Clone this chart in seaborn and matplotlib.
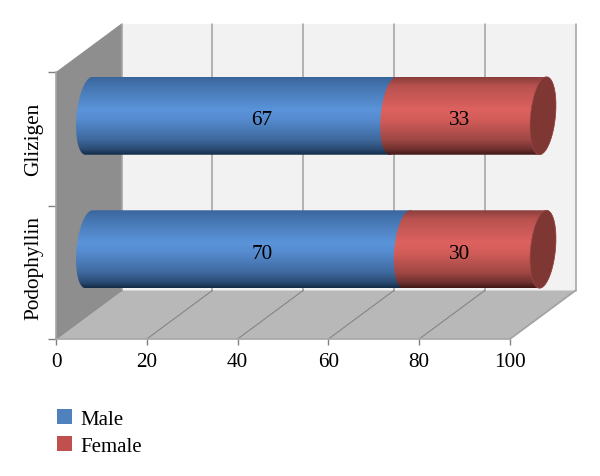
import numpy as np
import pandas as pd
import matplotlib
matplotlib.use('Agg')
import matplotlib.pyplot as plt
import seaborn as sns
from matplotlib.colors import LinearSegmentedColormap
from matplotlib.patches import Patch, Polygon

# Data
categories = ['Glizigen', 'Podophyllin']
male = [67, 70]
female = [33, 30]
x_ticks = [0, 20, 40, 60, 80, 100]

sns.set_theme(style='white')
plt.rcParams['font.family'] = ['Liberation Serif', 'DejaVu Serif']

W, H = 600, 477
fig = plt.figure(figsize=(W / 100, H / 100), dpi=100)


def px_rect(left, right, top, bottom):
    return [left / W, 1 - bottom / H, (right - left) / W, (bottom - top) / H]


# front plane of the fake 3d box
ax = fig.add_axes(px_rect(56, 510, 73, 340), zorder=1)
ax.set_xlim(0, 100)
ax.set_ylim(1.5, -0.5)
ax.patch.set_alpha(0)

depth_x = 65.5 / 4.54
depth_y = 48.5 / 133.5
top, bottom = -0.5, 1.5

back_wall = [(depth_x, top - depth_y), (100 + depth_x, top - depth_y),
             (100 + depth_x, bottom - depth_y), (depth_x, bottom - depth_y)]
left_wall = [(0, bottom), (0, top), (depth_x, top - depth_y), (depth_x, bottom - depth_y)]
floor = [(0, bottom), (100, bottom), (100 + depth_x, bottom - depth_y), (depth_x, bottom - depth_y)]

ax.add_patch(Polygon(back_wall, fc='#f2f2f2', ec='none', clip_on=False, zorder=1))
ax.add_patch(Polygon(floor, fc='#b8b8b8', ec='none', clip_on=False, zorder=2))
ax.add_patch(Polygon(left_wall, fc='#8e8e8e', ec='none', clip_on=False, zorder=3))

for t in x_ticks:
    # back wall and floor grid
    ax.plot([t + depth_x, t + depth_x], [top - depth_y, bottom - depth_y], color='#a0a0a0', lw=1.1,
            clip_on=False, zorder=2.5)
    ax.plot([t, t + depth_x], [bottom, bottom - depth_y], color='#858585', lw=0.8,
            clip_on=False, zorder=2.5)
ax.plot([100, 100 + depth_x], [bottom, bottom - depth_y], color='#a6a6a6', lw=1.2, clip_on=False, zorder=2.6)

for s in ['top', 'right']:
    ax.spines[s].set_visible(False)
for s in ['left', 'bottom']:
    ax.spines[s].set_color('#a6a6a6')
    ax.spines[s].set_linewidth(1.2)
    ax.spines[s].set_zorder(4)

ax.set_xticks(x_ticks)
ax.set_yticks([0, 0.96])
ax.set_yticklabels(categories, rotation=90, va='center', fontsize=15.3, color='black')
ax.set_yticks([-0.5, 0.5, 1.5], minor=True)
ax.tick_params(axis='x', length=4, width=1, color='#808080', labelsize=15.3, labelcolor='black', pad=5.7, bottom=True)
ax.tick_params(axis='y', which='major', length=0, pad=9, left=False)
ax.tick_params(axis='y', which='minor', length=6, width=1, color='#808080', left=True)

# bars sit half way into the box, same scale as the front plane
# the bar axes run 5 units wider each side so the rounded ends are not cut off
ax_bars = fig.add_axes(px_rect(56 + 33 - 22.7, 510 + 33 + 22.7, 73 - 23, 340 - 23), zorder=2)
ax_bars.patch.set_alpha(0)

df = pd.DataFrame({'drug': categories, 'male': male, 'female': female})
df['total'] = df['male'] + df['female']
sns.barplot(data=df, y='drug', x='total', order=categories, color='#c0504d', saturation=1,
            width=0.584, errorbar=None, ax=ax_bars)
sns.barplot(data=df, y='drug', x='male', order=categories, color='#4f81bd', saturation=1,
            width=0.584, errorbar=None, ax=ax_bars)
ax_bars.axis('off')

blue_cm = LinearSegmentedColormap.from_list('b', [(0, '#3a659c'), (0.12, '#4575b0'), (0.42, '#5b94da'),
                                                  (0.55, '#558ace'), (0.8, '#3f6a9f'), (0.93, '#2a4a72'),
                                                  (1, '#122a45')])
red_cm = LinearSegmentedColormap.from_list('r', [(0, '#8a3f3c'), (0.12, '#b9524f'), (0.42, '#dd625f'),
                                                 (0.55, '#d25c59'), (0.8, '#a04845'), (0.93, '#6e302e'),
                                                 (1, '#401816')])
a = 12.5 / 4.54
shear = 3.5 / 4.54


def end_curve(xc, y0, h, t0, t1):
    t = np.radians(np.linspace(t0, t1, 60))
    return np.column_stack([xc + a * np.cos(t) + shear * np.sin(t), y0 + h / 2 - h / 2 * np.sin(t)])


def draw_segment(x0, x1, y0, h, cmap, z):
    outline = np.vstack([end_curve(x0, y0, h, 90, 270), end_curve(x1, y0, h, 270, 450)])
    clip = Polygon(outline, closed=True, transform=ax_bars.transData, fc='none', ec='none')
    ax_bars.add_patch(clip)
    grad = np.linspace(0, 1, 256).reshape(-1, 1)
    im = ax_bars.imshow(grad, cmap=cmap, aspect='auto', extent=(x0 - a - 2, x1 + a + 2, y0 + h, y0),
                        zorder=z, interpolation='bilinear')
    im.set_clip_path(clip)


bars = list(ax_bars.patches)
for p in bars:
    p.set_visible(False)
n = len(categories)
for i in range(n):
    total_bar = bars[i]
    male_bar = bars[n + i]
    y0, h = total_bar.get_y(), total_bar.get_height()
    draw_segment(0, male_bar.get_width(), y0, h, blue_cm, 3)
    draw_segment(male_bar.get_width(), total_bar.get_width(), y0, h, red_cm, 4)
    cap = end_curve(total_bar.get_width(), y0, h, 0, 360)
    ax_bars.add_patch(Polygon(cap, closed=True, fc='#7f3734', ec='#9c4744', lw=0.5, zorder=5))
    ax_bars.text(38.1, i + 0.03, str(male[i]), ha='center', va='center', fontsize=15.3, color='black', zorder=6)
    ax_bars.text(81.7, i + 0.03, str(female[i]), ha='center', va='center', fontsize=15.3, color='black', zorder=6)

ax_bars.set_xlim(-5, 105)
ax_bars.set_ylim(1.5, -0.5)

handles = [Patch(fc='#4f81bd', ec='none', label='Male'), Patch(fc='#c0504d', ec='none', label='Female')]
leg = fig.legend(handles=handles, loc='upper left', bbox_to_anchor=(51 / W, 1 - 404 / H), frameon=False,
                 fontsize=15, handlelength=0.72, handleheight=0.72, handletextpad=0.41, labelspacing=0.36,
                 borderpad=0.3, borderaxespad=0, labelcolor='black')

fig.savefig('out.png', dpi=100)
